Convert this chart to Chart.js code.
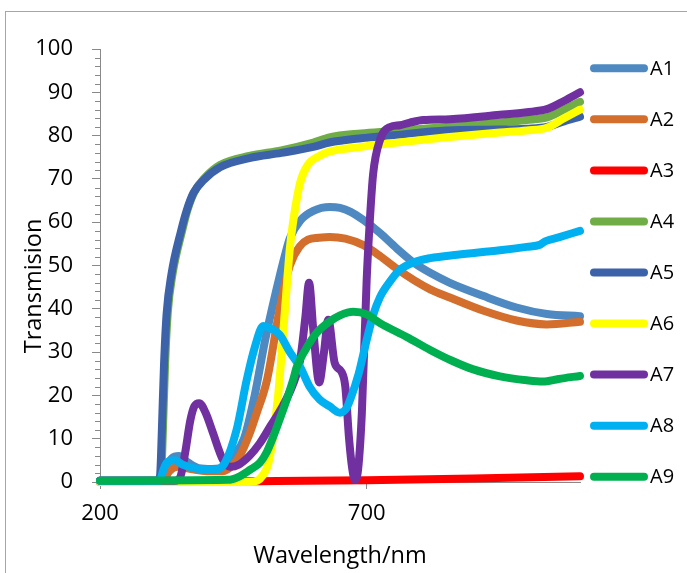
<!DOCTYPE html>
<html>
<head>
<meta charset="utf-8">
<script src="https://cdn.jsdelivr.net/npm/chart.js@4.4.1/dist/chart.umd.min.js"></script>
<style>
  html, body { margin: 0; padding: 0; background: #ffffff; }
  #wrap { position: relative; width: 687px; height: 573px; overflow: hidden; }
  #frame { position: absolute; left: 5px; top: 11px; width: 720px; height: 620px; border: 1px solid #a6a6a6; box-sizing: border-box; }
  #c { position: absolute; left: 0; top: 0; }
</style>
</head>
<body>
<div id="wrap">
  <div id="frame"></div>
  <canvas id="c" width="687" height="573"></canvas>
</div>
<script>
// ---- data (wavelength in nm, transmission in %) ----
const seriesNames = ['A1', 'A2', 'A3', 'A4', 'A5', 'A6', 'A7', 'A8', 'A9'];
const xTickValues = [200, 700];

const A1_nm = [200, 315, 322, 335, 348, 365, 385, 410, 434, 450, 470, 490, 510, 530, 547, 556, 575, 600, 631, 650, 670, 694, 725, 756, 790, 819, 856, 918, 981, 1038, 1100];
const A1_T  = [0.3, 0.3, 3, 5.5, 6, 4.5, 3.2, 3, 3.5, 6, 10, 20, 33, 44, 52.5, 56.3, 60.3, 62.6, 63.5, 63.3, 62.4, 60.5, 57.5, 54, 50.5, 48.3, 46, 43, 40.3, 38.8, 38.3];

const A2_nm = [200, 318, 330, 345, 370, 400, 430, 450, 462, 480, 494, 513, 537, 556, 575, 590, 610, 631, 660, 694, 725, 756, 790, 819, 856, 918, 981, 1038, 1100];
const A2_T  = [0.3, 0.3, 2.5, 3.5, 3, 2.5, 2.5, 4, 6, 11, 16, 23.5, 40, 50, 54.5, 56, 56.4, 56.6, 56.2, 54.7, 52.2, 49.3, 46.5, 44.5, 42.6, 39.6, 37.3, 36.4, 37];

const A3_nm = [200, 500, 700, 900, 1100];
const A3_T  = [0, 0.2, 0.4, 0.8, 1.3];

const A4_nm = [200, 312, 315, 318, 322, 327, 336, 354, 364, 377, 396, 425, 480, 540, 600, 630, 690, 744, 850, 950, 1000, 1038, 1070, 1100];
const A4_T  = [0.3, 0.3, 2, 12, 27, 39, 48, 58, 62.8, 67, 70.2, 73.2, 75.3, 76.6, 78.4, 79.6, 80.5, 81, 82, 83, 83.6, 84.2, 86, 87.8];

const A5_nm = [200, 310, 313, 316, 320, 325, 334, 352, 362, 375, 394, 425, 480, 540, 600, 630, 690, 744, 850, 950, 1000, 1038, 1070, 1100];
const A5_T  = [0.3, 0.3, 2, 12, 27, 39, 48, 58, 62.5, 66.7, 69.7, 72.7, 74.8, 76, 77.4, 78.4, 79.4, 80, 81.2, 81.4, 81.6, 82, 83.3, 84.4];

const A6_nm = [200, 480, 495, 505, 515, 524, 534, 547, 556, 562, 575, 590, 610, 630, 690, 744, 850, 950, 1000, 1038, 1070, 1100];
const A6_T  = [0, 0, 0.3, 1.5, 4, 10, 20, 40, 54, 60, 69, 73.3, 75.2, 76.3, 77.4, 78.2, 79.6, 80.7, 81.2, 81.8, 84, 86];

const A7_nm = [200, 340, 350, 360, 369, 377, 386, 398, 410, 431, 445, 460, 480, 500, 520, 540, 560, 575, 585, 592, 600, 611, 620, 628, 640, 653, 660, 667, 673, 678, 684, 691, 700, 706, 712, 725, 744, 762, 781, 806, 856, 950, 1000, 1038, 1070, 1100];
const A7_T  = [0.3, 0.3, 1, 7, 14, 17.5, 18.2, 16, 12, 5, 3.5, 4, 6, 9, 13, 17, 22, 28, 38, 46, 35, 23, 30, 37.5, 27.5, 25.4, 22, 10, 3, 0.5, 3, 16, 46.7, 60.5, 71, 79, 82, 82.4, 83, 83.6, 83.8, 84.8, 85.4, 86.1, 88, 90];

const A8_nm = [200, 312, 318, 325, 340, 355, 375, 412, 434, 456, 475, 490, 506, 520, 537, 556, 575, 593, 612, 630, 650, 662, 669, 685, 700, 712, 725, 745, 762, 790, 819, 870, 950, 1000, 1025, 1035, 1060, 1100];
const A8_T  = [0.3, 0.3, 2.5, 4.4, 5, 4, 3.2, 2.8, 4.4, 12, 23.5, 31, 36, 35.5, 34, 30, 26.6, 22, 19, 17.5, 16, 17, 19, 25, 32.8, 38.5, 42.7, 46.5, 49, 50.8, 51.7, 52.5, 53.5, 54.3, 54.8, 55.6, 56.5, 58];

const A9_nm = [200, 440, 460, 481, 500, 513, 525, 537, 550, 562, 569, 585, 606, 630, 650, 675, 700, 725, 775, 819, 860, 900, 950, 1000, 1030, 1060, 1100];
const A9_T  = [0.3, 0.5, 1.2, 2.8, 4.5, 7, 10.5, 14.5, 19, 23.5, 26.6, 30.5, 34.4, 37, 38.5, 39.3, 38.7, 36.7, 33.5, 30.5, 28, 26, 24.4, 23.5, 23.2, 23.8, 24.5];

const seriesX = [A1_nm, A2_nm, A3_nm, A4_nm, A5_nm, A6_nm, A7_nm, A8_nm, A9_nm];
const seriesY = [A1_T, A2_T, A3_T, A4_T, A5_T, A6_T, A7_T, A8_T, A9_T];

// ---- styles ----
const colors = ['#4E8AC1', '#D36E2C', '#FF0000', '#70AD47', '#3C62AA', '#FFFF00', '#7030A0', '#00B0F0', '#00B050'];
const FONT = '"Open Sans", "Noto Sans", sans-serif';
const AXIS_GREY = '#898989';

Chart.defaults.color = '#000';
Chart.defaults.font.family = FONT;

const datasets = seriesNames.map((name, i) => ({
  label: name,
  data: seriesX[i].map((x, k) => ({ x: x, y: seriesY[i][k] })),
  borderColor: colors[i],
  backgroundColor: colors[i],
  borderWidth: 8,
  borderCapStyle: 'round',
  borderJoinStyle: 'round',
  pointRadius: 0,
  pointHoverRadius: 0,
  cubicInterpolationMode: 'monotone',
  fill: false,
  clip: false,
  order: seriesNames.length - i   // later series drawn on top, like the original
}));

const extrasPlugin = {
  id: 'extras',
  afterDraw(chart) {
    const ctx = chart.ctx;
    const ys = chart.scales.y;
    const area = chart.chartArea;
    ctx.save();
    // minor ticks on the y axis
    ctx.strokeStyle = AXIS_GREY;
    ctx.lineWidth = 1;
    for (let v = ys.min; v <= ys.max; v += 2) {
      if (v % 10 === 0) continue;
      const py = Math.round(ys.getPixelForValue(v)) + 0.5;
      ctx.beginPath();
      ctx.moveTo(area.left - 5, py);
      ctx.lineTo(area.left, py);
      ctx.stroke();
    }
    // y axis title
    ctx.fillStyle = '#000';
    ctx.font = '23.5px ' + FONT;
    ctx.textAlign = 'center';
    ctx.textBaseline = 'middle';
    ctx.translate(34, 286);
    ctx.rotate(-Math.PI / 2);
    ctx.fillText('Transmision', 0, 0);
    ctx.restore();

    // legend
    ctx.save();
    const x1 = 594, x2 = 644, y0 = 68.3, dy = 51.05;
    chart.data.datasets.forEach((ds, i) => {
      const y = y0 + i * dy;
      ctx.strokeStyle = ds.borderColor;
      ctx.lineWidth = 8;
      ctx.lineCap = 'round';
      ctx.beginPath();
      ctx.moveTo(x1, y);
      ctx.lineTo(x2, y);
      ctx.stroke();
      ctx.fillStyle = '#000';
      ctx.font = '20px ' + FONT;
      ctx.textAlign = 'left';
      ctx.textBaseline = 'middle';
      ctx.fillText(ds.label, 650, y + 1);
    });
    ctx.restore();
  }
};

new Chart(document.getElementById('c'), {
  type: 'line',
  data: { datasets: datasets },
  options: {
    responsive: false,
    animation: false,
    events: [],
    layout: { padding: { left: 0, right: 107, top: 49, bottom: 0 } },
    plugins: { legend: { display: false }, tooltip: { enabled: false } },
    scales: {
      x: {
        type: 'linear',
        min: 200,
        max: 1100,
        afterBuildTicks: (scale) => { scale.ticks = xTickValues.map(v => ({ value: v })); },
        afterFit: (scale) => { scale.height = 91; },
        ticks: { font: { size: 22 }, padding: 12, color: '#000', maxRotation: 0 },
        grid: { drawOnChartArea: false, tickLength: 7, tickColor: AXIS_GREY },
        border: { color: AXIS_GREY, width: 1 },
        title: { display: true, text: 'Wavelength/nm', font: { size: 23.5 }, color: '#000', padding: { top: 0, bottom: 3 } }
      },
      y: {
        type: 'linear',
        min: 0,
        max: 100,
        afterFit: (scale) => { scale.width = 100; },
        ticks: { stepSize: 10, font: { size: 22 }, padding: 19, color: '#000' },
        grid: { drawOnChartArea: false, tickLength: 8, tickColor: AXIS_GREY },
        border: { color: AXIS_GREY, width: 1 }
      }
    }
  },
  plugins: [extrasPlugin]
});
</script>
</body>
</html>
